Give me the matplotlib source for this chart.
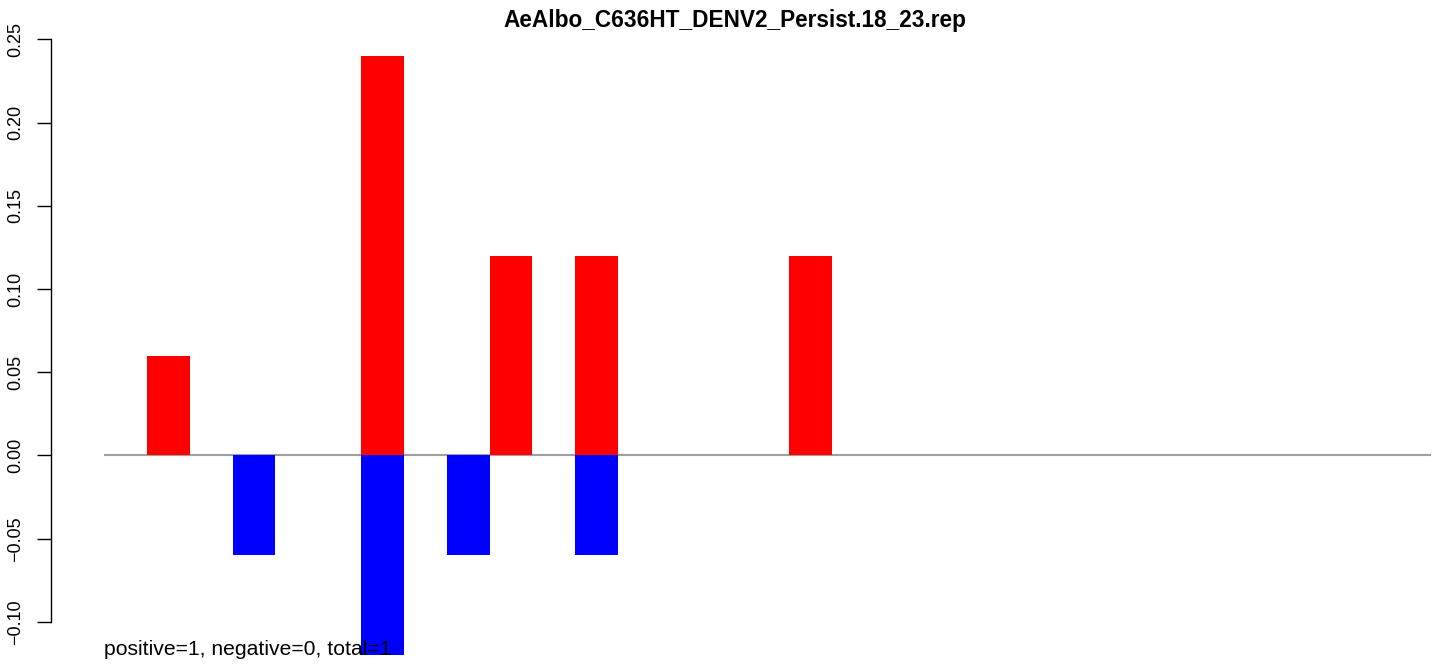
import matplotlib
matplotlib.use("Agg")
import matplotlib.pyplot as plt
import numpy as np

plt.rcParams['font.family'] = ['Liberation Sans', 'DejaVu Sans']

# --data
title = 'AeAlbo_C636HT_DENV2_Persist.18_23.rep'
pos_slots = [0, 5, 8, 10, 15]
pos_vals = [0.06, 0.24, 0.12, 0.12, 0.12]
neg_slots = [2, 5, 7, 10]
neg_vals = [-0.06, -0.12, -0.06, -0.06]
slots = np.arange(-1, 30)
yticks = [-0.10, -0.05, 0.00, 0.05, 0.10, 0.15, 0.20, 0.25]
note = 'positive=1, negative=0, total=1'

W, H = 1439, 664
fig = plt.figure(figsize=(W / 100, H / 100), dpi=100)
ax = fig.add_axes([51 / W, 0, (1432 - 51) / W, 1])

ax.set_xlim(-2.745, 29.52)
ax.set_ylim(-0.1253, 0.2737)

# baseline
ax.hlines(0, slots[0] - 0.5, slots[-1] + 0.5, color='#a0a0a0', lw=1.5, zorder=1)

ax.bar(pos_slots, pos_vals, width=1.0, color='red', zorder=3)
ax.bar(neg_slots, neg_vals, width=1.0, color='blue', zorder=3)

# note is written on top of the bars
ax.text(slots[0] - 0.5, min(neg_vals), note, fontsize=15.2, ha='left', va='baseline', zorder=4)

fig.text(735 / W, 1 - 27 / H, title, fontsize=16.3, fontweight='bold', ha='center', va='baseline')

for s in ['top', 'right', 'bottom']:
    ax.spines[s].set_visible(False)
ax.spines['left'].set_bounds(yticks[0], yticks[-1])
ax.spines['left'].set_linewidth(1.0)
ax.set_xticks([])
ax.set_yticks(yticks)
ax.set_yticklabels([('%.2f' % v).replace('-', '\u2212') for v in yticks],
                   rotation=90, va='center', fontsize=13)
ax.tick_params(axis='y', length=10, width=1.0, pad=9)

fig.savefig('out.png', dpi=100)
